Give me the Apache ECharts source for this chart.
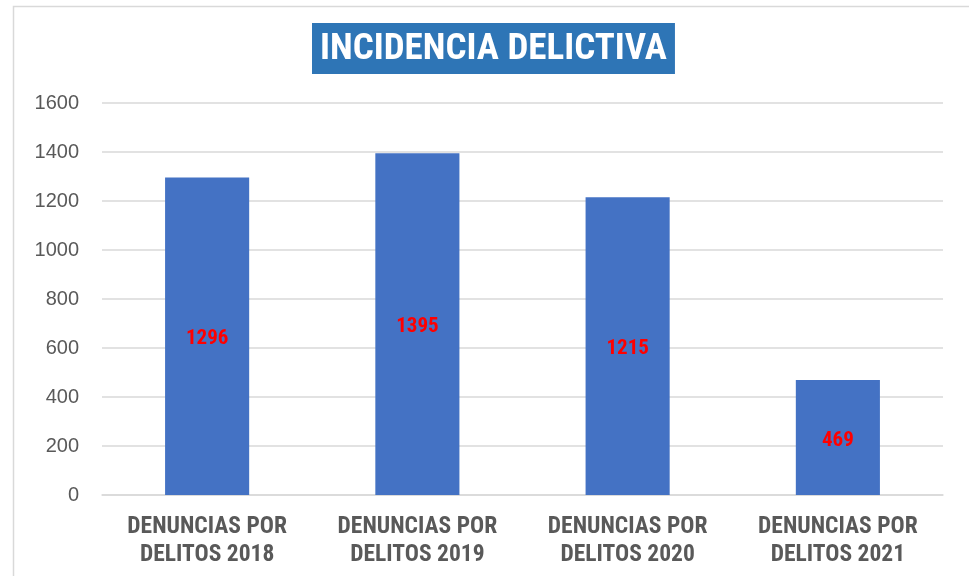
<!DOCTYPE html>
<html>
<head>
<meta charset="utf-8">
<script src="https://cdn.jsdelivr.net/npm/echarts@6/dist/echarts.min.js"></script>
<style>
  html, body { margin: 0; padding: 0; background: #fff; }
  #main { width: 969px; height: 576px; }
</style>
</head>
<body>
<div id="main"></div>
<script>
var categories = ['DENUNCIAS POR\nDELITOS 2018', 'DENUNCIAS POR\nDELITOS 2019', 'DENUNCIAS POR\nDELITOS 2020', 'DENUNCIAS POR\nDELITOS 2021'];
var denuncias = [1296, 1395, 1215, 469];
var yTicks = [0, 200, 400, 600, 800, 1000, 1200, 1400, 1600];

var narrow = '"Liberation Sans Narrow", "Arial Narrow", "Roboto Condensed", sans-serif';
var myChart = echarts.init(document.getElementById('main'));
var option = {
    backgroundColor: '#fff',
    animation: false,
    title: {
        text: 'INCIDENCIA DELICTIVA',
        left: 312,
        top: 23,
        backgroundColor: '#2E75B6',
        padding: [7, 8, 5, 8],
        textStyle: {
            color: '#fff',
            fontFamily: narrow,
            fontWeight: 'bold',
            fontSize: 37,
            lineHeight: 39
        }
    },
    graphic: [{
        type: 'rect',
        shape: { x: 13.5, y: 6.5, width: 1000, height: 600 },
        style: { fill: 'none', stroke: '#d9d9d9', lineWidth: 1.5 },
        silent: true
    }],
    grid: {
        left: 102,
        right: 26,
        top: 103,
        bottom: 81
    },
    xAxis: {
        type: 'category',
        data: categories,
        axisLine: { lineStyle: { color: '#d9d9d9', width: 1.5 } },
        axisTick: { show: false },
        axisLabel: {
            color: '#595959',
            fontFamily: narrow,
            fontWeight: 'bold',
            fontSize: 23.5,
            lineHeight: 28,
            margin: 18
        }
    },
    yAxis: {
        type: 'value',
        min: 0,
        max: yTicks[yTicks.length - 1],
        interval: 200,
        axisLine: { show: false },
        axisTick: { show: false },
        splitLine: { lineStyle: { color: '#d9d9d9', width: 1.5 } },
        axisLabel: {
            color: '#595959',
            fontFamily: '"Liberation Sans", Arial, sans-serif',
            fontSize: 20,
            margin: 23,
            formatter: function (v) { return String(v); }
        }
    },
    series: [{
        type: 'bar',
        data: denuncias,
        barWidth: '40%',
        itemStyle: { color: '#4472C4' },
        label: {
            show: true,
            position: 'inside',
            offset: [0, 3],
            color: '#FF0000',
            fontFamily: narrow,
            fontWeight: 'bold',
            fontSize: 21
        }
    }]
};
myChart.setOption(option);
</script>
</body>
</html>
